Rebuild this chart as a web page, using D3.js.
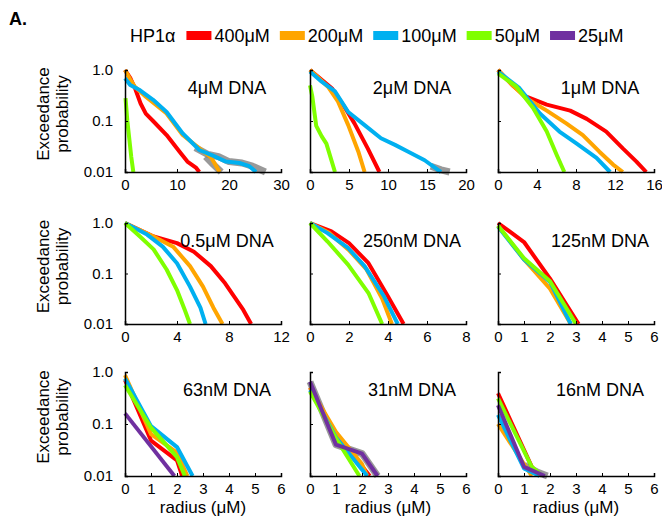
<!DOCTYPE html>
<html>
<head>
<meta charset="utf-8">
<script src="https://cdn.jsdelivr.net/npm/d3@7"></script>
<style>
  body { margin: 0; background: #fff; }
  text { font-family: "Liberation Sans", Arial, sans-serif; }
</style>
</head>
<body>
<div id="chart"></div>
<script>
// legend / series
const hp1Levels = ["400μM", "200μM", "100μM", "50μM", "25μM"];
const hp1Colors = ["#ff0000", "#ffa500", "#00b0f0", "#7fff00", "#7030a0"];

const panelTitles = ["4μM DNA", "2μM DNA", "1μM DNA",
                     "0.5μM DNA", "250nM DNA", "125nM DNA",
                     "63nM DNA", "31nM DNA", "16nM DNA"];

const xTickValues = [
    [0, 10, 20, 30], [0, 5, 10, 15, 20], [0, 4, 8, 12, 16],
    [0, 4, 8, 12], [0, 2, 4, 6, 8], [0, 1, 2, 3, 4, 5, 6],
    [0, 1, 2, 3, 4, 5, 6], [0, 1, 2, 3, 4, 5, 6], [0, 1, 2, 3, 4, 5, 6]
];
const yTickValues = [1, 0.1, 0.01];
const yTickLabels = ["1.0", "0.1", "0.01"];

// series per panel, in order 400, 200, 100, 50, 25 uM ([radius, probability])
const dna4uM = [
    [[0,1.0],[1,0.7],[2,0.42],[3,0.22],[4,0.14],[5.4,0.1],[8,0.053],[10.5,0.025],[12,0.016],[13.7,0.012],[14.3,0.01]],
    [[0,1.0],[1,0.66],[1.9,0.47],[4,0.3],[8,0.14],[11.1,0.053],[14.3,0.029],[16.6,0.019],[18.2,0.01]],
    [[0,0.69],[1,0.51],[2.9,0.4],[5.4,0.26],[8,0.15],[11.1,0.057],[14.3,0.027],[16.9,0.021],[19.4,0.016],[22,0.015],[23.9,0.013],[25.2,0.01]],
    [[0.1,0.28],[0.45,0.1],[1.2,0.02],[1.6,0.01]],
    null
];
const dna2uM = [
    [[0,1.0],[2.8,0.44],[4.5,0.18],[5.7,0.09],[7.4,0.029],[8.9,0.01]],
    [[0,1.0],[2.3,0.47],[3.6,0.24],[4.9,0.083],[6.2,0.025],[7.0,0.01]],
    [[0,0.93],[1.5,0.59],[3.2,0.38],[4.9,0.15],[7.0,0.083],[9.1,0.046],[10.9,0.034],[12.6,0.025],[14.7,0.017],[16.4,0.011],[16.8,0.01]],
    [[0,0.5],[0.3,0.3],[0.8,0.08],[1.5,0.05],[2.1,0.036],[3.2,0.01]],
    null
];
const dna1uM = [
    [[0,1.0],[1.5,0.5],[2.9,0.3],[5,0.21],[7.4,0.16],[9.1,0.11],[11.1,0.062],[12.8,0.029],[14.2,0.016],[15.2,0.01]],
    [[0,1.0],[1.5,0.5],[2.9,0.28],[5,0.16],[7,0.09],[8.7,0.053],[10.4,0.025],[11.8,0.014],[12.8,0.01]],
    [[0,0.93],[2.2,0.44],[4.3,0.14],[6.3,0.062],[8,0.037],[10.1,0.019],[11.5,0.01]],
    [[0,0.86],[1.9,0.47],[3.6,0.18],[5,0.062],[6,0.022],[6.8,0.01]],
    null
];
const dna500nM = [
    [[0,1.0],[2.2,0.54],[4,0.4],[5.3,0.27],[6.6,0.14],[7.7,0.064],[8.4,0.035],[9.1,0.019],[9.7,0.01]],
    [[0,1.0],[2.2,0.54],[3.7,0.34],[5,0.14],[6,0.055],[6.8,0.021],[7.5,0.01]],
    [[0,1.0],[1.7,0.59],[2.9,0.34],[4,0.16],[5,0.055],[5.8,0.021],[6.2,0.01]],
    [[0,1.0],[1.15,0.54],[2.2,0.3],[3.2,0.12],[4,0.047],[4.6,0.019],[5.0,0.01]],
    null
];
const dna250nM = [
    [[0,1.0],[1.1,0.68],[2,0.4],[3,0.16],[4,0.035],[4.8,0.01]],
    [[0,1.0],[1,0.63],[2,0.29],[2.9,0.12],[3.7,0.032],[4.2,0.01]],
    [[0,1.0],[0.9,0.63],[1.95,0.32],[2.8,0.14],[3.8,0.035],[4.5,0.01]],
    [[0,1.0],[0.9,0.43],[1.95,0.15],[3,0.041],[3.7,0.01]],
    null
];
const dna125nM = [
    [[0,1.0],[1,0.42],[2,0.079],[3.1,0.01]],
    [[0,0.88],[1,0.19],[2,0.05],[2.8,0.01]],
    [[0,0.85],[1,0.19],[2,0.068],[2.8,0.01]],
    [[0,0.88],[1,0.2],[2,0.07],[3.0,0.01]],
    null
];
const dna63nM = [
    [[0,0.7],[1,0.048],[2,0.02],[2.2,0.01]],
    [[0,0.87],[1,0.064],[2,0.028],[2.4,0.01]],
    [[0,0.75],[1,0.091],[2,0.036],[2.6,0.01]],
    [[0,0.56],[1,0.085],[2,0.023],[2.3,0.01]],
    [[0,0.16],[1.9,0.01]]
];
const dna31nM = [
    [[0,0.5],[1,0.06],[1.7,0.024],[2.3,0.01]],
    [[0,0.5],[1,0.07],[2,0.017],[2.2,0.01]],
    [[0,0.45],[1,0.055],[2.2,0.01]],
    [[0,0.42],[1,0.053],[1.9,0.01]],
    [[0,0.65],[1,0.04],[2,0.027],[2.6,0.01]]
];
const dna16nM = [
    [[0,0.39],[1.3,0.015],[1.6,0.01]],
    [[0,0.1],[1.3,0.01]],
    [[0,0.15],[1,0.014],[1.6,0.01]],
    [[0,0.31],[1.3,0.015],[1.7,0.01]],
    [[0,0.23],[1,0.015],[1.8,0.01]]
];
const panelSeries = [dna4uM, dna2uM, dna1uM, dna500nM, dna250nM, dna125nM, dna63nM, dna31nM, dna16nM];

// grey confidence bands that show behind some curves
const panelBands = [
    [[[13.5,0.03],[16,0.022],[18,0.02],[20,0.016],[22.5,0.015],[24.5,0.013],[27,0.01]],
     [[15.5,0.02],[17,0.014],[18.5,0.01]]],
    [[[15.5,0.013],[16.8,0.011],[17.9,0.01]]],
    [], [], [], [],
    [],
    [[[0,0.65],[1,0.04],[2,0.027],[2.6,0.01]]],
    [[[1,0.016],[1.5,0.012],[1.9,0.01]]]
];

const width = 662, height = 518;
const colX = [125, 310, 498];
const rowY = [70, 223, 372];
const panelW = 156;
const panelH = [102, 101, 104];

const svg = d3.select("#chart").append("svg")
    .attr("width", width)
    .attr("height", height);

// panel letter
svg.append("text")
    .attr("x", 9).attr("y", 25)
    .attr("font-size", 18).attr("font-weight", "bold")
    .text("A.");

// legend
let legend = svg.append("g").attr("transform", "translate(130, 42)");
let head = legend.append("text").attr("x", 0).attr("y", 0).attr("font-size", 18).text("HP1α");
let lx = head.node().getComputedTextLength() + 11;
hp1Levels.forEach((lvl, i) => {
    legend.append("rect")
        .attr("x", lx).attr("y", -11)
        .attr("width", 25).attr("height", 9)
        .attr("fill", hp1Colors[i]);
    let t = legend.append("text")
        .attr("x", lx + 28).attr("y", 0)
        .attr("font-size", 18)
        .text(lvl);
    lx += 28 + t.node().getComputedTextLength() + 10;
});

panelTitles.forEach((title, p) => {
    let row = Math.floor(p / 3), col = p % 3;
    let h = panelH[row];
    let ticks = xTickValues[p];

    let g = svg.append("g")
        .attr("transform", `translate(${colX[col]}, ${rowY[row]})`);

    let x = d3.scaleLinear().domain([0, ticks[ticks.length - 1]]).range([0, panelW]);
    let y = d3.scaleLog().domain([0.01, 1]).range([h, 0]);

    let line = d3.line()
        .x(d => x(d[0]))
        .y(d => y(d[1]));

    // grey bands first
    panelBands[p].forEach(b => {
        g.append("path")
            .datum(b)
            .attr("d", line)
            .attr("fill", "none")
            .attr("stroke", "#808080")
            .attr("stroke-width", 7)
            .attr("stroke-linejoin", "round")
            .attr("stroke-opacity", 0.8);
    });

    panelSeries[p].forEach((s, i) => {
        if (!s) return;
        g.append("path")
            .datum(s)
            .attr("d", line)
            .attr("fill", "none")
            .attr("stroke", hp1Colors[i])
            .attr("stroke-width", 4)
            .attr("stroke-linejoin", "round");
    });

    // axes (ticks point inward)
    let xAxis = g.append("g")
        .attr("transform", `translate(0, ${h})`)
        .call(d3.axisBottom(x).tickValues(ticks).tickSize(-3).tickPadding(7).tickFormat(d3.format("d")));
    xAxis.select(".domain").attr("stroke-width", 1.5);
    xAxis.selectAll("text").attr("font-size", 15).attr("fill", "#000")
        .style("font-family", "'Liberation Sans', Arial, sans-serif");

    let yAxis = g.append("g")
        .call(d3.axisLeft(y).tickValues(yTickValues).tickSize(-3).tickPadding(12)
            .tickFormat((d, i) => col === 0 ? yTickLabels[i] : ""));
    yAxis.select(".domain").attr("stroke-width", 1.5);
    yAxis.selectAll("text").attr("font-size", 15).attr("fill", "#000")
        .style("font-family", "'Liberation Sans', Arial, sans-serif");

    // panel title
    g.append("text")
        .attr("x", 102).attr("y", 24)
        .attr("text-anchor", "middle")
        .attr("font-size", 18)
        .text(title);

    if (col === 0) {
        let cy = h / 2 - 7;
        let lab = g.append("text")
            .attr("transform", `translate(-76, ${cy}) rotate(-90)`)
            .attr("text-anchor", "middle")
            .attr("font-size", 17);
        lab.append("tspan").attr("x", 0).attr("dy", 0).text("Exceedance");
        lab.append("tspan").attr("x", 0).attr("dy", 19).text("probability");
    }
    if (row === 2) {
        g.append("text")
            .attr("x", panelW / 2).attr("y", h + 37)
            .attr("text-anchor", "middle")
            .attr("font-size", 17)
            .text("radius (μM)");
    }
});
</script>
</body>
</html>
